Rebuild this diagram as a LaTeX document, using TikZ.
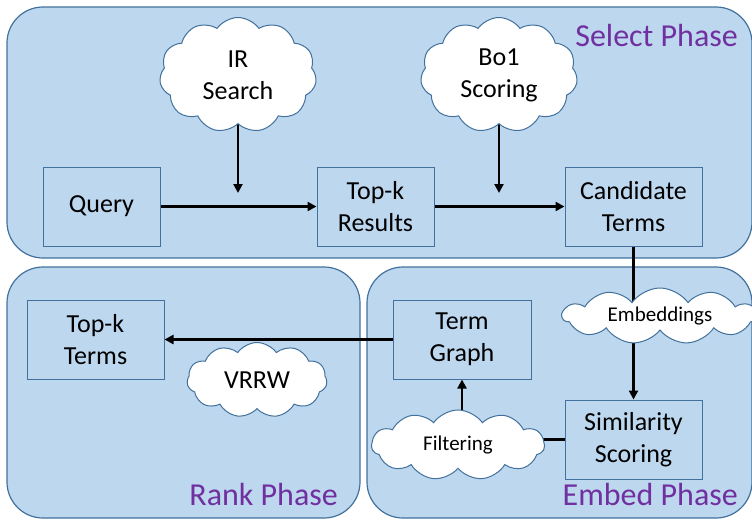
\documentclass[tikz,border=0pt]{standalone}
\usepackage{fontspec}
\setmainfont{Carlito}
\usetikzlibrary{shapes.symbols,arrows.meta}
\definecolor{panelfill}{HTML}{BDD7EE}
\definecolor{panelline}{HTML}{41719C}
\definecolor{phasetxt}{HTML}{7030A0}
\pgfdeclarelayer{background}
\pgfdeclarelayer{conn}
\pgfsetlayers{background,conn,main}
\begin{document}
\begin{tikzpicture}[x=1pt,y=-1pt,
 panel/.style={draw=panelline, fill=panelfill, line width=1.2pt, rounded corners=36pt},
 box/.style={draw=panelline, line width=1pt, fill=panelfill, align=center, font=\fontsize{26}{32}\selectfont, inner sep=0pt, minimum height=79pt},
 cloudn/.style={cloud, cloud puffs=11, cloud puff arc=110, cloud ignores aspect, draw=panelline, fill=white, line width=1pt, align=center, inner sep=0pt, font=\fontsize{26}{32}\selectfont},
 arr/.style={line width=2.4pt, -{Triangle[length=9pt,width=9pt]}},
 ln/.style={line width=2.4pt},
 phase/.style={text=phasetxt, font=\fontsize{32}{38}\selectfont, inner sep=0pt, anchor=base east}
]
\useasboundingbox (0,0) rectangle (752,520);
\clip (0,0) rectangle (752,520);
\begin{pgfonlayer}{background}
\draw[panel] (7,7) rectangle (752,258);
\draw[panel] (7,267) rectangle (360,518);
\draw[panel] (367,267) rectangle (752,518);
\end{pgfonlayer}

\node[box, minimum width=117pt] (q) at (101.5,206.5) {Query};
\node[box, minimum width=117pt] (tr) at (375.5,206.5) {Top-k\\Results};
\node[box, minimum width=137pt] (cand) at (633.5,206.5) {Candidate\\Terms};
\node[box, minimum width=137pt] (tt) at (95.5,339.5) {Top-k\\Terms};
\node[box, minimum width=138pt] (tg) at (462,339.5) {Term\\Graph};
\node[box, minimum width=137pt] (sim) at (633.5,439.5) {Similarity\\Scoring};

\node[cloudn, minimum width=157pt, minimum height=115pt] (ir) at (238,75) {IR\\Search};
\node[cloudn, minimum width=157pt, minimum height=115pt] (bo) at (499,75) {Bo1\\Scoring};
\node[cloudn, minimum width=195pt, minimum height=56pt, font=\fontsize{21}{25}\selectfont] (emb) at (660,316) {Embeddings};
\node[cloudn, minimum width=140pt, minimum height=75pt] (vr) at (257,380) {VRRW};
\node[cloudn, minimum width=173pt, minimum height=70pt, font=\fontsize{21}{25}\selectfont] (filt) at (458,445) {Filtering};

\coordinate (irend) at (238,193);
\coordinate (boend) at (499,193);

\begin{pgfonlayer}{conn}
\draw[arr] (q.east) -- (tr.west);
\draw[arr] (tr.east) -- (cand.west);
\draw[arr] (ir.center) -- (irend);
\draw[arr] (bo.center) -- (boend);
\draw[ln] (cand.south) -- (cand.south |- emb.center);
\draw[arr] (cand.south |- emb.center) -- (sim.north);
\draw[arr] (tg.west) -- (tt.east);
\draw[arr] (tg.south |- filt.center) -- (tg.south);
\draw[ln] (sim.west) -- (sim.west -| filt.center);
\end{pgfonlayer}

\node[phase] (sp) at (738,46) {Select Phase};
\node[phase] (rp) at (338,505) {Rank Phase};
\node[phase] (ep) at (738,505) {Embed Phase};
\end{tikzpicture}
\end{document}
